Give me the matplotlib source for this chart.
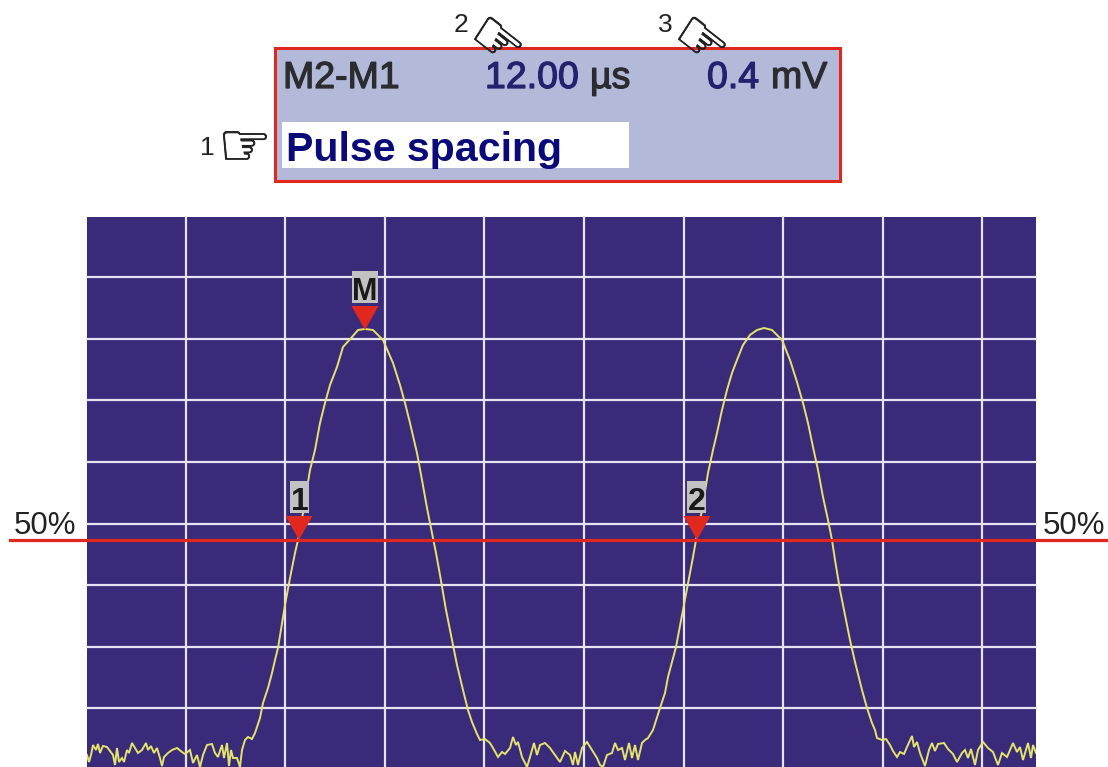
import matplotlib
matplotlib.use("Agg")
import matplotlib.pyplot as plt
from matplotlib.patches import Rectangle, Polygon
import matplotlib.patheffects as pe

plt.rcParams['font.family'] = ['Liberation Sans', 'DejaVu Sans']

# Screen trace (horizontal, vertical position on the scope image)
noise_left = [(87,755),(89,762),(91,755),(93,745),(96,750),(98,744),(100,753),(102,748),(103,746),(107,747),(110,751),
              (113,755),(115,765),(117,748),(119,762),(122,758),(124,762),(127,750),(129,753),(132,743),(135,748),(138,753),
              (142,750),(146,743),(148,750),(151,746),(154,753),(157,748),(160,758),(162,766),(164,757),(168,753),(172,750),
              (177,748),(182,752),(185,754),(190,750),(193,763),(197,755),(200,767),(203,755),(207,745),(212,744),(215,753),
              (218,757),(222,745),(224,758),(227,743),(229,766),(231,750),(233,758),(237,758),(240,767),(242,750),(245,740),
              (248,737),(252,739),(255,733)]
pulse_one = [(260,718),(263,703),(268,688),(272,673),(275,660),(278,648),(285,605),(290,578),(295,553),(298,540),
             (303,513),(310,470),(315,450),(320,423),(325,403),(330,385),(337,367),(343,347),(352,337),(358,330),(365,329),
             (373,330),(383,340),(393,363),(400,385),(405,403),(410,423),(417,453),(422,480),(427,508),(432,533),(436,553),
             (440,575),(446,610),(452,640),(457,665),(463,690),(468,710),(472,722)]
noise_mid = [(477,734),(480,740),(485,739),(490,743),(493,748),(498,757),(502,752),(505,754),(510,748),(513,737),(516,745),
             (518,742),(522,757),(527,767),(530,757),(534,743),(537,755),(540,745),(545,743),(550,748),(555,755),(560,762),
             (565,751),(570,755),(573,765),(575,752),(578,765),(582,748),(587,742),(592,750),(597,758),(600,765),(603,767),
             (607,755),(612,753),(615,743),(618,750),(622,748),(625,760),(629,743),(632,758),(635,745),(638,760),(642,743),
             (645,740),(648,738),(653,730)]
pulse_two = [(660,708),(665,693),(668,677),(672,662),(676,647),(683,610),(688,583),(693,557),(696,540),(702,510),(708,473),
             (713,450),(717,433),(722,410),(727,390),(732,373),(737,360),(743,345),(750,335),(757,330),(764,328),(772,330),
             (782,340),(790,360),(797,382),(803,403),(808,423),(813,447),(818,470),(823,497),(828,520),(832,540),(835,560),
             (840,590),(845,615),(850,640),(855,662),(862,690),(867,708),(872,723)]
noise_right = [(875,730),(877,738),(882,740),(886,739),(890,745),(893,751),(897,757),(900,752),(904,754),(907,747),(912,736),
               (914,747),(917,742),(920,753),(925,766),(929,750),(932,743),(935,751),(938,744),(944,743),(948,749),(953,754),
               (957,762),(962,753),(965,750),(968,758),(971,749),(975,765),(978,750),(983,742),(988,748),(993,752),(998,765),
               (1002,753),(1007,757),(1013,743),(1017,752),(1020,747),(1023,760),(1028,743),(1031,758),(1033,745),(1036,753)]

# Marker flags: label, tip position
flag_labels = ['M', '1', '2']
flag_x = [365, 299, 697]
flag_y = [330, 540, 540]

level_label = '50%'
level_y = 539.5

header_left = 'M2-M1'
time_value, time_unit = '12.00', 'µs'
volt_value, volt_unit = '0.4', 'mV'
softkey = 'Pulse spacing'
callouts = ['1', '2', '3']

NAVY = '#392a7a'
RED = '#e0281e'
GRID = '#e6e4f2'
TRACE = '#e4e36c'

fig = plt.figure(figsize=(11.08, 7.67), dpi=100, facecolor='white')
ax = fig.add_axes([0, 0, 1, 1])
ax.set_xlim(0, 1108)
ax.set_ylim(767, 0)
ax.axis('off')

# Scope screen and graticule
L, R, T, B = 87, 1036, 217, 767
screen = Rectangle((L, T), R - L, B - T, fc=NAVY, ec='none', zorder=1)
ax.add_patch(screen)
for i in range(1, 10):
    ax.plot([86 + 99.6 * i] * 2, [T, B], color=GRID, lw=1.6, zorder=2)
for i in range(1, 9):
    ax.plot([L, R], [215.6 + 61.6 * i] * 2, color=GRID, lw=1.6, zorder=2)

# Trace
points = noise_left + pulse_one + noise_mid + pulse_two + noise_right
trace_x, trace_y = zip(*points)
line, = ax.plot(trace_x, trace_y, color=TRACE, lw=1.4, zorder=3, solid_joinstyle='miter')
line.set_clip_path(screen)

# 50 % level
ax.plot([10, 1107], [level_y, level_y], color=RED, lw=2.3, zorder=4)
ax.text(45, 534, level_label, fontsize=22.5, color='#222222', ha='center', va='baseline', zorder=6)
ax.text(1074, 534, level_label, fontsize=22.5, color='#222222', ha='center', va='baseline', zorder=6)

# Flags
for lab, fx, fy in zip(flag_labels, flag_x, flag_y):
    half = 13.5
    ax.add_patch(Polygon([(fx - half, fy - 24), (fx + half, fy - 24), (fx, fy)], fc=RED, ec='none', zorder=5))
    bw = 13 if lab == 'M' else 9.5
    cx = fx if lab == 'M' else fx + (0.5 if lab == '1' else -0.5)
    ax.add_patch(Rectangle((cx - bw, fy - 59), 2 * bw, 32, fc='#c2c2c2', ec='none', zorder=5))
    ax.text(cx, fy - 30.5, lab, fontsize=22 if lab == 'M' else 23, fontweight='bold', color='#1a1a1a',
            ha='center', va='baseline', zorder=6)

# Header panel
ax.add_patch(Rectangle((275, 47.5), 565, 133.5, fc='#b3b9d9', ec=RED, lw=2.2, zorder=3))
ax.add_patch(Rectangle((282, 122), 347, 46, fc='white', ec='none', zorder=4))
base = 88
def head(x, s, c):
    ax.text(x, base, s, fontsize=27, color=c, ha='left', va='baseline', zorder=5,
            path_effects=[pe.withStroke(linewidth=0.9, foreground=c)])
head(283, header_left, '#2b2b30')
head(485, time_value, '#22226e')
head(590, time_unit, '#2b2b30')
head(707, volt_value, '#22226e')
head(771, volt_unit, '#2b2b30')
ax.text(286, 161, softkey, fontsize=29.6, fontweight='bold', color='#0a0a78', ha='left', va='baseline', zorder=5)

# Callout hands
hand_font = ['DejaVu Sans']
stroke = [pe.withStroke(linewidth=0.6, foreground='#222222')]
ax.text(207, 155, callouts[0], fontsize=19, color='#222222', ha='center', va='baseline', zorder=6)
ax.text(245, 149, '\u261e', fontsize=43, family=hand_font, color='#222222', ha='center', va='center',
        path_effects=stroke, zorder=6)
ax.text(461, 32, callouts[1], fontsize=19, color='#222222', ha='center', va='baseline', zorder=6)
ax.text(496, 43, '\u261e', fontsize=43, family=hand_font, color='#222222', ha='center', va='center',
        rotation=-38, rotation_mode='anchor', path_effects=stroke, zorder=6)
ax.text(665, 32, callouts[2], fontsize=19, color='#222222', ha='center', va='baseline', zorder=6)
ax.text(700, 43, '\u261e', fontsize=43, family=hand_font, color='#222222', ha='center', va='center',
        rotation=-38, rotation_mode='anchor', path_effects=stroke, zorder=6)

fig.savefig('out.png', dpi=100)
